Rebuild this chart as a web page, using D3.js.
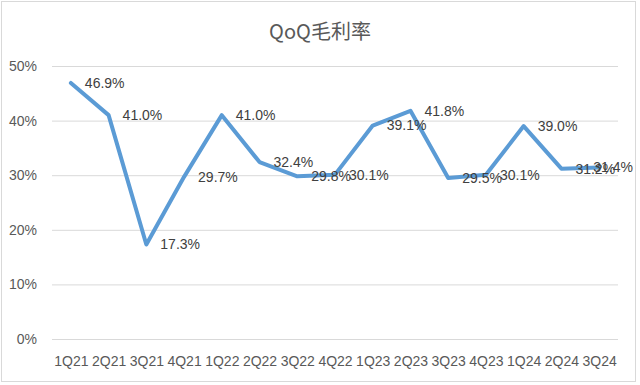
<!DOCTYPE html>
<html>
<head>
<meta charset="utf-8">
<script src="https://cdn.jsdelivr.net/npm/d3@7"></script>
<style>
  body { margin: 0; background: #fff; }
  svg { display: block; font-family: "Liberation Sans", Arial, sans-serif; }
</style>
</head>
<body>
<div id="chart"></div>
<script>
// quarters on the x axis
var quarters = ["1Q21", "2Q21", "3Q21", "4Q21", "1Q22", "2Q22", "3Q22", "4Q22",
  "1Q23", "2Q23", "3Q23", "4Q23", "1Q24", "2Q24", "3Q24"];
// gross margin, percent
var margin = [46.9, 41.0, 17.3, 29.7, 41.0, 32.4, 29.8, 30.1,
  39.1, 41.8, 29.5, 30.1, 39.0, 31.2, 31.4];
var yTicks = [0, 10, 20, 30, 40, 50];
var title = "QoQ毛利率";

var width = 640, height = 385;
var plot = {left: 52, right: 618, top: 66, bottom: 339};
var frameRight = 635;

var svg = d3.select("#chart").append("svg")
  .attr("width", width)
  .attr("height", height);

// outer frame
svg.append("rect")
  .attr("x", 1.5).attr("y", 1.5)
  .attr("width", frameRight - 1).attr("height", 380)
  .attr("fill", "#fff")
  .attr("stroke", "#d9d9d9");

svg.append("text")
  .attr("x", 320).attr("y", 39)
  .attr("text-anchor", "middle")
  .attr("fill", "#595959")
  .style("font-family", "'Noto Sans CJK SC', sans-serif")
  .style("font-size", "20px")
  .text(title);

var x = d3.scalePoint()
  .domain(quarters)
  .range([plot.left, plot.right])
  .padding(0.5);

var y = d3.scaleLinear()
  .domain([0, 50])
  .range([plot.bottom, plot.top]);

// gridlines + y labels
var yAxis = svg.append("g")
  .attr("transform", "translate(" + plot.left + ",0)")
  .call(d3.axisLeft(y).tickValues(yTicks)
    .tickSize(-(plot.right - plot.left))
    .tickPadding(15)
    .tickFormat(function(d) { return d + "%"; }));
yAxis.select(".domain").remove();
yAxis.selectAll("line").attr("stroke", "#d9d9d9").attr("stroke-width", 1);
yAxis.selectAll("text")
  .attr("fill", "#595959")
  .style("font-size", "14px")
  .style("font-family", "'Liberation Sans', Arial, sans-serif");

// x labels
var xAxis = svg.append("g")
  .attr("transform", "translate(0," + plot.bottom + ")")
  .call(d3.axisBottom(x).tickSize(0).tickPadding(17));
xAxis.select(".domain").remove();
xAxis.selectAll("text")
  .attr("fill", "#595959")
  .style("font-size", "14px")
  .style("font-family", "'Liberation Sans', Arial, sans-serif");

var line = d3.line()
  .x(function(d, i) { return x(quarters[i]); })
  .y(function(d) { return y(d); });

svg.append("path")
  .datum(margin)
  .attr("fill", "none")
  .attr("stroke", "#5b9bd5")
  .attr("stroke-width", 4)
  .attr("stroke-linejoin", "round")
  .attr("stroke-linecap", "round")
  .attr("d", line);

// data labels, right of each point, nudged inside the frame
var labels = svg.selectAll(".lbl")
  .data(margin)
  .enter()
  .append("text")
    .attr("class", "lbl")
    .attr("x", function(d, i) { return x(quarters[i]) + 14; })
    .attr("y", function(d) { return y(d); })
    .attr("dy", "0.35em")
    .attr("fill", "#404040")
    .style("font-size", "14px")
    .style("font-family", "'Liberation Sans', Arial, sans-serif")
    .text(function(d) { return d.toFixed(1) + "%"; });

labels.each(function() {
  var b = this.getBBox();
  if (b.x + b.width > frameRight - 2) {
    d3.select(this).attr("x", frameRight - 2 - b.width);
  }
});
</script>
</body>
</html>
